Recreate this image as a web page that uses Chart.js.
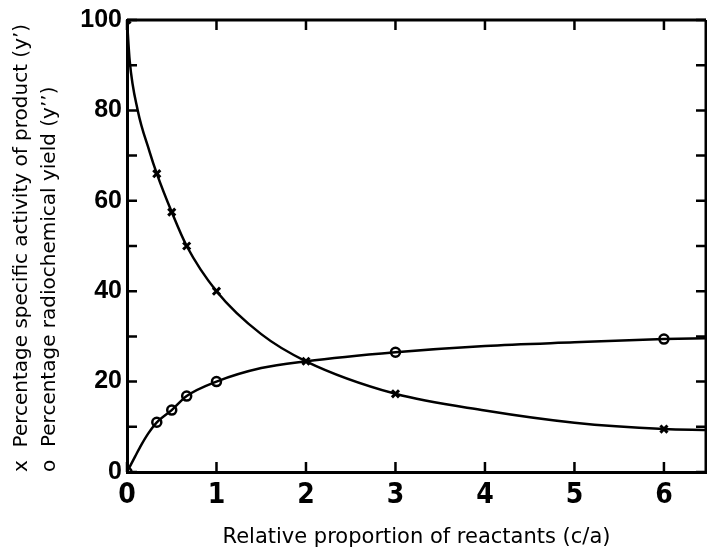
<!DOCTYPE html>
<html>
<head>
<meta charset="utf-8">
<script src="https://cdn.jsdelivr.net/npm/chart.js@4"></script>
<style>
	body { margin: 0; background: #fff; }
	#wrap { width: 707px; height: 550px; }
</style>
</head>
<body>
<div id="wrap"><canvas id="graph"></canvas></div>
<script>
// measured points (x = specific activity, o = radiochemical yield)
const ratioX = [0, 0.333, 0.5, 0.667, 1, 2, 3, 6]
const activity = [100, 66, 57.5, 50, 40, 24.5, 17.3, 9.5]
const ratioO = [0, 0.333, 0.5, 0.667, 1, 3, 6]
const yieldPct = [0, 11, 13.7, 16.8, 20, 26.5, 29.4]

// the hand-drawn curves
const activityCurveX = [0, 0.03, 0.12, 0.25, 0.333, 0.5, 0.667, 1, 1.5, 2, 3, 4, 5, 6, 6.47]
const activityCurveY = [100, 91, 80, 71, 66, 57.5, 50, 40, 30.5, 24.5, 17.3, 13.6, 10.9, 9.5, 9.3]
const yieldCurveX = [0, 0.09, 0.16, 0.24, 0.333, 0.5, 0.667, 1, 1.5, 2, 3, 4, 5, 6, 6.47]
const yieldCurveY = [0, 3.4, 6, 8.6, 11, 13.7, 16.8, 20, 23, 24.5, 26.5, 27.9, 28.7, 29.4, 29.6]

const xTicks = [0, 1, 2, 3, 4, 5, 6]
const yTicks = [0, 20, 40, 60, 80, 100]

const xTitle = 'Relative proportion of reactants (c/a)'
const yTitle = ['x  Percentage specific activity of product (y’)', 'o  Percentage radiochemical yield (y’’)']

const zip = (xs, ys) => xs.map((x, i) => ({ x: x, y: ys[i] }))

// inward tick marks on all four sides, plus top and right frame lines
const frame = {
	id: 'frame',
	afterDraw(chart) {
		const ctx = chart.ctx;
		const a = chart.chartArea;
		const xs = chart.scales.x;
		const ys = chart.scales.y;
		ctx.save();
		ctx.strokeStyle = '#000';
		ctx.lineWidth = 3;
		ctx.beginPath();
		ctx.moveTo(a.left, a.top);
		ctx.lineTo(a.right, a.top);
		ctx.moveTo(a.right, a.top);
		ctx.lineTo(a.right, a.bottom);
		ctx.stroke();
		ctx.lineWidth = 2.5;
		ctx.beginPath();
		xs.ticks.forEach(t => {
			const px = xs.getPixelForValue(t.value);
			ctx.moveTo(px, a.bottom);
			ctx.lineTo(px, a.bottom - 10);
			ctx.moveTo(px, a.top);
			ctx.lineTo(px, a.top + 10);
		});
		ys.ticks.forEach(t => {
			const py = ys.getPixelForValue(t.value);
			ctx.moveTo(a.left, py);
			ctx.lineTo(a.left + 10, py);
			ctx.moveTo(a.right, py);
			ctx.lineTo(a.right - 10, py);
		});
		ctx.stroke();
		ctx.restore();
	}
};

function plotGraph() {
	const ctx = document.getElementById('graph').getContext('2d');
	new Chart(ctx, {
		type: 'line',
		data: {
			datasets: [
				{
					data: zip(activityCurveX, activityCurveY),
					borderColor: '#000',
					borderWidth: 2.5,
					pointRadius: 0,
					cubicInterpolationMode: 'monotone'
				},
				{
					data: zip(yieldCurveX, yieldCurveY),
					borderColor: '#000',
					borderWidth: 2.5,
					pointRadius: 0,
					cubicInterpolationMode: 'monotone'
				},
				{
					data: zip(ratioX, activity),
					showLine: false,
					pointStyle: 'crossRot',
					pointRadius: 5,
					pointBorderWidth: 3,
					pointBorderColor: '#000'
				},
				{
					data: zip(ratioO, yieldPct),
					showLine: false,
					pointStyle: 'circle',
					pointRadius: 4.5,
					pointBorderWidth: 2.5,
					pointBorderColor: '#000',
					pointBackgroundColor: '#fff'
				}
			]
		},
		options: {
			responsive: true,
			maintainAspectRatio: false,
			animation: false,
			layout: {
				autoPadding: false,
				padding: { left: 0, right: 1, top: 20, bottom: 0 }
			},
			plugins: {
				legend: { display: false },
				tooltip: { enabled: false }
			},
			scales: {
				x: {
					type: 'linear',
					min: 0,
					max: 6.47,
					afterFit: s => { s.height = 78; s.paddingRight = 0; s.paddingLeft = 0; },
					afterBuildTicks: s => { s.ticks = xTicks.map(v => ({ value: v })); },
					grid: { display: false, drawTicks: false },
					border: { display: true, color: '#000', width: 3 },
					ticks: {
						padding: 7,
						color: '#000',
						font: { family: "'Liberation Sans Narrow', 'DejaVu Sans Condensed', sans-serif", size: 28, weight: 'bold' }
					},
					title: {
						display: true,
						text: xTitle,
						color: '#000',
						padding: { top: 0, bottom: 0 },
						font: { family: "'DejaVu Sans', sans-serif", size: 21 }
					}
				},
				y: {
					min: 0,
					max: 100,
					afterFit: s => { s.width = 127; },
					afterBuildTicks: s => {
						const t = [];
						for (let v = 0; v <= 100; v += 10) t.push({ value: v });
						s.ticks = t;
					},
					grid: { display: false, drawTicks: false },
					border: { display: true, color: '#000', width: 3 },
					ticks: {
						padding: 5,
						color: '#000',
						callback: v => yTicks.includes(v) ? String(v) : '',
						font: { family: "'Liberation Sans', Arial, sans-serif", size: 25, weight: 'bold' }
					},
					title: {
						display: true,
						text: yTitle,
						align: 'start',
						color: '#000',
						padding: { top: 8, bottom: 0 },
						font: { family: "'DejaVu Sans', sans-serif", size: 20, lineHeight: 1.4 }
					}
				}
			}
		},
		plugins: [frame]
	});
}

document.addEventListener('DOMContentLoaded', plotGraph);
</script>
</body>
</html>
